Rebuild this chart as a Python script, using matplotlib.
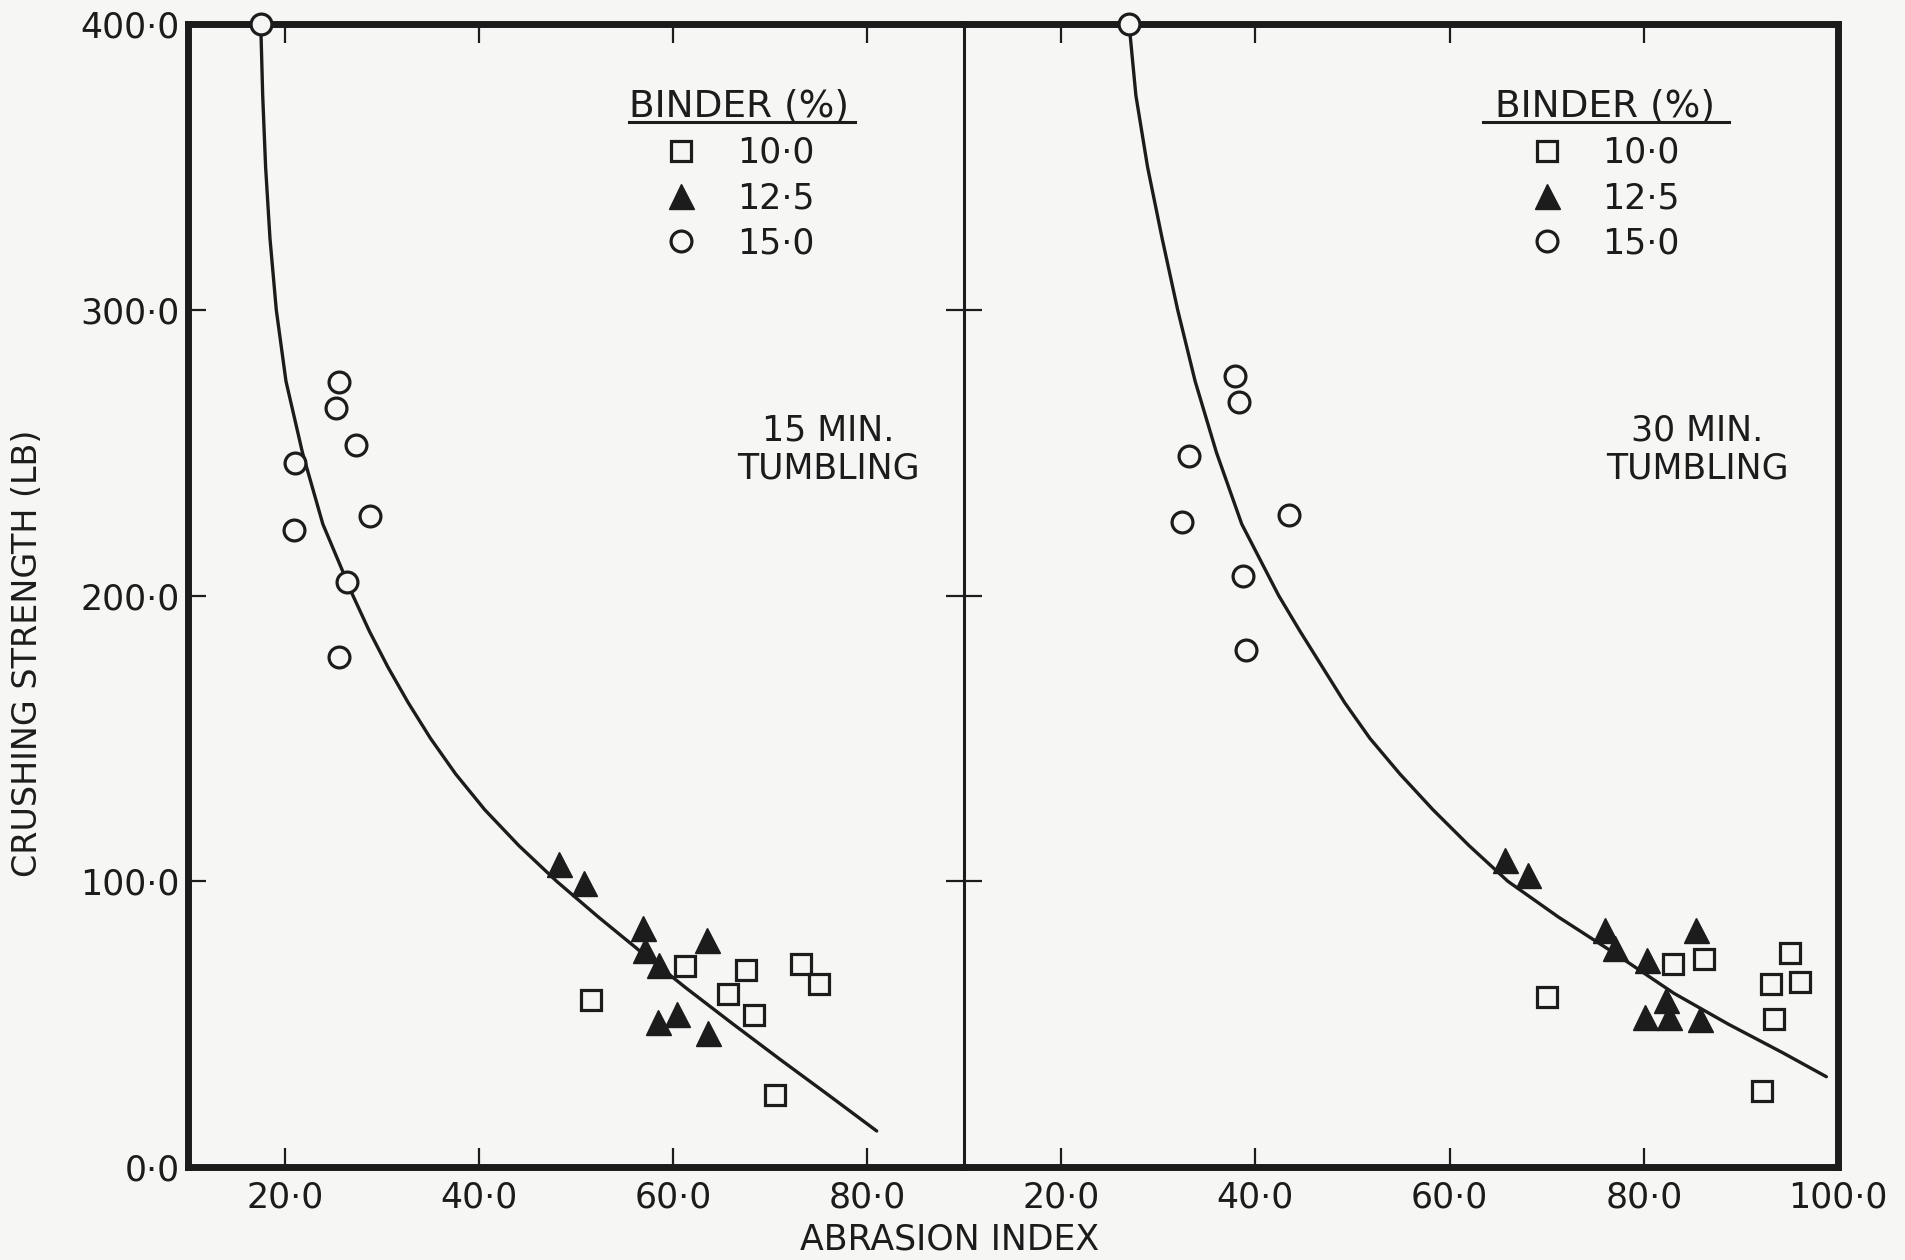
import matplotlib
matplotlib.use("Agg")
import matplotlib.pyplot as plt
from matplotlib.ticker import FuncFormatter

# ---------------- data ----------------
binder_levels = [10.0, 12.5, 15.0]

# 15 min tumbling
p15_sq_x = [51.5, 61.2, 67.5, 65.7, 68.3, 73.2, 75.1, 70.5]
p15_sq_y = [58.6, 70.4, 69.1, 60.7, 53.1, 71.2, 64.2, 25.2]
p15_tri_x = [48.2, 50.8, 56.9, 57.1, 58.6, 63.5, 60.4, 58.5, 63.6]
p15_tri_y = [106.2, 99.4, 83.5, 75.9, 70.6, 79.6, 53.7, 50.8, 46.8]
p15_cir_x = [17.5, 25.6, 25.3, 27.3, 21.0, 28.8, 20.9, 26.4, 25.6]
p15_cir_y = [400.0, 274.6, 265.7, 252.5, 246.5, 227.8, 223.0, 204.7, 178.5]
curve15_x = [17.5, 17.7, 18.0, 18.45, 19.1, 20.1, 21.8, 23.9, 27.0, 28.7, 30.6,
             32.7, 35.0, 37.6, 40.6, 44.1, 48.0, 52.3, 56.8, 61.4, 66.2, 71.1,
             76.1, 81.0]
curve15_y = [400, 375, 350, 325, 300, 275, 250, 225, 200, 187.5, 175,
             162.5, 150, 137.5, 125, 112.5, 100, 87.5, 75, 62.5, 50, 37.5,
             25, 12.6]

# 30 min tumbling
p30_sq_x = [70.0, 83.0, 86.2, 95.1, 93.1, 96.1, 93.4, 92.2]
p30_sq_y = [59.5, 71.0, 72.9, 74.9, 64.2, 64.8, 51.7, 26.7]
p30_tri_x = [65.7, 68.1, 76.0, 77.0, 80.3, 85.4, 82.3, 82.6, 80.1, 85.8]
p30_tri_y = [107.3, 102.1, 82.8, 76.5, 72.6, 83.1, 58.4, 52.5, 52.5, 51.7]
p30_cir_x = [27.0, 37.9, 38.3, 33.2, 32.5, 43.5, 38.7, 39.0]
p30_cir_y = [400.0, 276.9, 267.6, 248.8, 225.8, 228.2, 206.7, 180.9]
curve30_x = [27.0, 27.7, 28.9, 30.4, 32.0, 33.8, 36.0, 38.6, 42.4, 44.6, 46.9,
             49.2, 51.8, 54.9, 58.3, 62.0, 66.0, 71.2, 76.9, 83.1, 88.7, 94.3,
             98.8]
curve30_y = [400, 375, 350, 325, 300, 275, 250, 225, 200, 187.5, 175,
             162.5, 150, 137.5, 125, 112.5, 100, 87.5, 75, 60.8, 50, 40,
             31.6]

x15_ticks = [20, 40, 60, 80]
x30_ticks = [20, 40, 60, 80, 100]
y_ticks = [0, 100, 200, 300, 400]
panel_titles = ["15 MIN.\nTUMBLING", "30 MIN.\nTUMBLING"]
xlabel = "ABRASION INDEX"
ylabel = "CRUSHING STRENGTH (LB)"
legend_title = "BINDER (%)"

# ---------------- style ----------------
INK = "#1c1c1c"
PAPER = "#f6f6f4"
plt.rcParams["font.family"] = ["DejaVu Sans"]

W, H = 1906, 1260
fig = plt.figure(figsize=(W / 100, H / 100), dpi=100, facecolor=PAPER)

x0, xd, x1 = 188, 964, 1838
yb, yt = 1167, 24
ax1 = fig.add_axes([x0 / W, 1 - yb / H, (xd - x0) / W, (yb - yt) / H])
ax2 = fig.add_axes([xd / W, 1 - yb / H, (x1 - xd) / W, (yb - yt) / H], sharey=ax1)

fmt = FuncFormatter(lambda v, p: f"{v:.1f}".replace(".", "\u00b7"))

def draw_panel(ax, sx, sy, tx, ty, cx, cy, kx, ky, xlim, xticks, title, title_xy,
               leg_anchor, underline):
    ax.set_facecolor("none")
    ax.plot(kx, ky, color=INK, lw=2.4, zorder=3, solid_capstyle="round",
            solid_joinstyle="round")
    ax.plot(sx, sy, "s", ms=15, mfc="none", mec=INK, mew=2.3, zorder=4,
            label=fmt(binder_levels[0]))
    ax.plot(tx, ty, "^", ms=18, mfc=INK, mec=INK, mew=1, zorder=4,
            label=fmt(binder_levels[1]))
    ax.plot(cx, cy, "o", ms=15, mfc=PAPER, mec=INK, mew=2.3, zorder=6,
            clip_on=False, label=fmt(binder_levels[2]))
    ax.set_xlim(*xlim)
    ax.set_ylim(0, 400)
    ax.set_xticks(xticks)
    ax.set_yticks(y_ticks)
    ax.xaxis.set_major_formatter(fmt)
    ax.yaxis.set_major_formatter(fmt)
    ax.tick_params(axis="x", direction="in", top=True, bottom=True, length=14,
                   width=1.6, color=INK, labelsize=25, labelcolor=INK, pad=10)
    ax.tick_params(axis="y", direction="in", length=13, width=1.6, color=INK,
                   labelsize=25, labelcolor=INK, pad=6)
    ax.text(title_xy[0], title_xy[1], title, ha="center", va="center",
            fontsize=25, color=INK, linespacing=1.15)
    leg = ax.legend(loc="upper center", bbox_to_anchor=leg_anchor, frameon=False,
                    title=legend_title, title_fontsize=27, fontsize=25,
                    handlelength=1.0, handletextpad=1.1, labelspacing=0.33,
                    borderpad=0, labelcolor=INK)
    leg.get_title().set_color(INK)
    ax.plot(underline[0], [underline[1]] * 2, transform=ax.transAxes, color=INK,
            lw=2.2, clip_on=False)
    for s in ax.spines.values():
        s.set_color(INK)
        s.set_linewidth(5)

draw_panel(ax1, p15_sq_x, p15_sq_y, p15_tri_x, p15_tri_y, p15_cir_x, p15_cir_y,
           curve15_x, curve15_y, (10, 90), x15_ticks, panel_titles[0], (76.0, 251),
           (0.71, 0.959), ((0.568, 0.859), 0.9146))
draw_panel(ax2, p30_sq_x, p30_sq_y, p30_tri_x, p30_tri_y, p30_cir_x, p30_cir_y,
           curve30_x, curve30_y, (10, 100), x30_ticks, panel_titles[1], (85.5, 251),
           (0.733, 0.959), ((0.594, 0.875), 0.9146))

ax1.tick_params(axis="y", left=True, right=True, labelleft=True)
ax1.spines["right"].set_linewidth(2.2)
ax2.spines["left"].set_visible(False)
ax2.tick_params(axis="y", left=True, right=False, labelleft=False)

fig.text(28 / W, 1 - 653 / H, ylabel, rotation=90, ha="center", va="center",
         fontsize=24, color=INK)
fig.text(950 / W, 1 - 1240 / H, xlabel, ha="center", va="center",
         fontsize=25, color=INK)

fig.savefig("out.png", dpi=100, facecolor=PAPER)
